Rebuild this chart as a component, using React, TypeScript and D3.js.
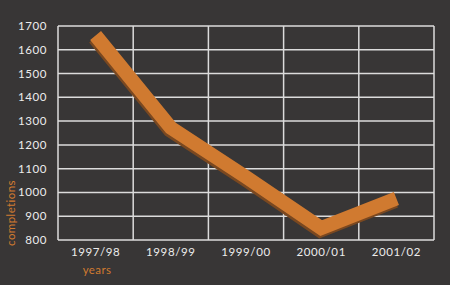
import React from "react";
import * as d3 from "d3";

const categories = ["1997/98", "1998/99", "1999/00", "2000/01", "2001/02"];
const completions = [1660, 1272, 1065, 850, 975];
const yTicks = [800, 900, 1000, 1100, 1200, 1300, 1400, 1500, 1600, 1700];

const W = 450;
const H = 285;
const left = 58;
const right = 434;
const top = 26;
const bottom = 240;

export default function App() {
  const x = d3.scaleBand<string>().domain(categories).range([left, right]).padding(0);
  const y = d3.scaleLinear().domain([800, 1700]).range([bottom, top]);
  const pts: [number, number][] = categories.map((c, i) => [x(c)! + x.bandwidth() / 2, y(completions[i])]);
  const line = d3.line<[number, number]>().x((d) => d[0]).y((d) => d[1]);
  const d = line(pts) || "";
  const font = "Lato, 'Open Sans', sans-serif";
  const gridColor = "#dcdcdc";
  return (
    <svg width={W} height={H} style={{ position: "absolute", left: 0, top: 0, display: "block" }}>
      <rect x={0} y={0} width={W} height={H} fill="#383636" />
      {yTicks.map((t) => (
        <line key={"h" + t} x1={left} x2={right} y1={y(t)} y2={y(t)} stroke={gridColor} strokeWidth={1.5} />
      ))}
      {categories.map((c) => (
        <line key={"v" + c} x1={x(c)!} x2={x(c)!} y1={top} y2={bottom} stroke={gridColor} strokeWidth={1.5} />
      ))}
      <line x1={right} x2={right} y1={top} y2={bottom} stroke={gridColor} strokeWidth={1.5} />
      {yTicks.map((t) => (
        <text key={"t" + t} x={47} y={y(t)} dy="0.35em" textAnchor="end" fill="#ececec" fontFamily={font} fontSize={11.5} letterSpacing={0.6}>
          {t}
        </text>
      ))}
      {categories.map((c) => (
        <text key={"c" + c} x={x(c)! + x.bandwidth() / 2} y={252} dy="0.35em" textAnchor="middle" fill="#ececec" fontFamily={font} fontSize={11.5} letterSpacing={0.6}>
          {c}
        </text>
      ))}
      <text x={97} y={270} dy="0.35em" textAnchor="middle" fill="#d07a30" fontFamily={font} fontSize={11.5} letterSpacing={0.4}>
        years
      </text>
      <text transform="translate(11,213) rotate(-90)" dy="0.35em" textAnchor="middle" fill="#d07a30" fontFamily={font} fontSize={11.5} letterSpacing={0.4}>
        completions
      </text>
      <path d={d} transform="translate(-1,2.5)" fill="none" stroke="#7a4820" strokeWidth={14} strokeLinejoin="miter" strokeLinecap="butt" />
      <path d={d} fill="none" stroke="#d07a30" strokeWidth={14} strokeLinejoin="miter" strokeLinecap="butt" />
    </svg>
  );
}
